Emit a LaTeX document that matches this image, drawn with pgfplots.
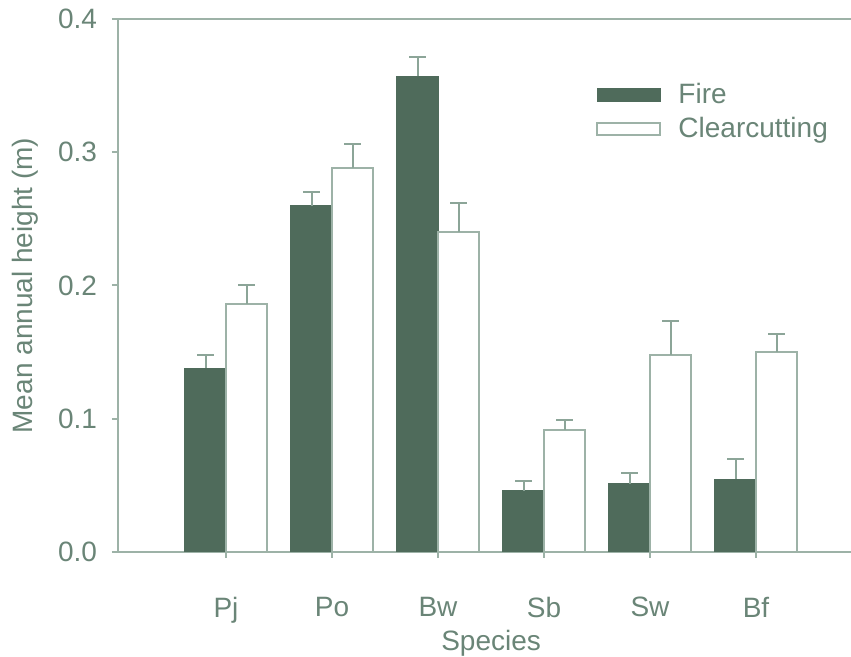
\documentclass[border=0pt]{standalone}
\usepackage{pgfplots}
\pgfplotsset{compat=1.18}
\usepackage{fontspec}
\setmainfont{Liberation Sans}
\definecolor{firec}{HTML}{4F6B5B}
\definecolor{axisc}{HTML}{9DB2A7}
\definecolor{errc}{HTML}{8CA598}
\definecolor{textc}{HTML}{6A8577}
\begin{document}
\begin{tikzpicture}
\begin{axis}[
  name=ax,
  scale only axis,
  width=366.5pt, height=266.5pt,
  xmin=-1.019, xmax=5.896,
  ymin=0, ymax=0.4,
  ybar=0pt, bar width=20.5pt,
  axis x line=box, axis y line=left,
  x axis line style={-}, y axis line style={-},
  every outer y axis line/.append style={-},
  axis line style={draw=axisc, line width=1pt},
  xtick={0,1,2,3,4,5},
  xticklabels={Pj,Po,Bw,Sb,Sw,Bf},
  ytick={0,0.1,0.2,0.3,0.4},
  tick pos=left,
  tick align=outside,
  major tick length=3pt,
  every tick/.style={draw=axisc, line width=1pt},
  /pgf/number format/assume math mode=true,
  yticklabel style={/pgf/number format/fixed, /pgf/number format/fixed zerofill, /pgf/number format/precision=1, xshift=-4pt},
  xticklabel style={yshift=-16pt},
  font=\fontsize{14}{16}\selectfont,
  every tick label/.append style={text=textc},
  xlabel={Species},
  ylabel={Mean annual height (m)},
  x label style={at={(axis description cs:0.509,0)}, anchor=center, yshift=-45.5pt, text=textc},
  y label style={at={(axis description cs:0,0.5)}, anchor=center, rotate=0, yshift=46.5pt, text=textc},
  legend style={at={(axis description cs:0.644,0.895)}, anchor=north west, draw=none, fill=none,
     text=textc, row sep=1.5pt, font=\fontsize{14}{16}\selectfont},
  legend cell align=left,
  legend image code/.code={\draw[#1] (0pt,-3pt) rectangle (31.5pt,3pt); \path (38pt,0pt);},
  error bars/y dir=plus,
  error bars/y explicit,
  error bars/error bar style={draw=errc, line width=1pt},
  error bars/error mark options={draw=errc, line width=1pt, mark size=4.25pt, rotate=90},
]
\addplot[fill=firec, draw=firec, line width=0.6pt] coordinates {
  (0,0.138) +- (0,0.010)
  (1,0.260) +- (0,0.010)
  (2,0.357) +- (0,0.0145)
  (3,0.046) +- (0,0.007)
  (4,0.051) +- (0,0.008)
  (5,0.0545) +- (0,0.0155)
};
\addlegendentry{Fire}
\addplot[fill=white, draw=axisc, line width=1pt] coordinates {
  (0,0.186) +- (0,0.014)
  (1,0.288) +- (0,0.018)
  (2,0.240) +- (0,0.0216)
  (3,0.0915) +- (0,0.0075)
  (4,0.1475) +- (0,0.0255)
  (5,0.150) +- (0,0.0135)
};
\addlegendentry{Clearcutting}
\end{axis}
\pgfresetboundingbox
\path[use as bounding box] ([xshift=-59pt,yshift=-52.5pt]ax.south west) rectangle ([yshift=9.5pt]ax.north east);
\end{tikzpicture}
\end{document}
